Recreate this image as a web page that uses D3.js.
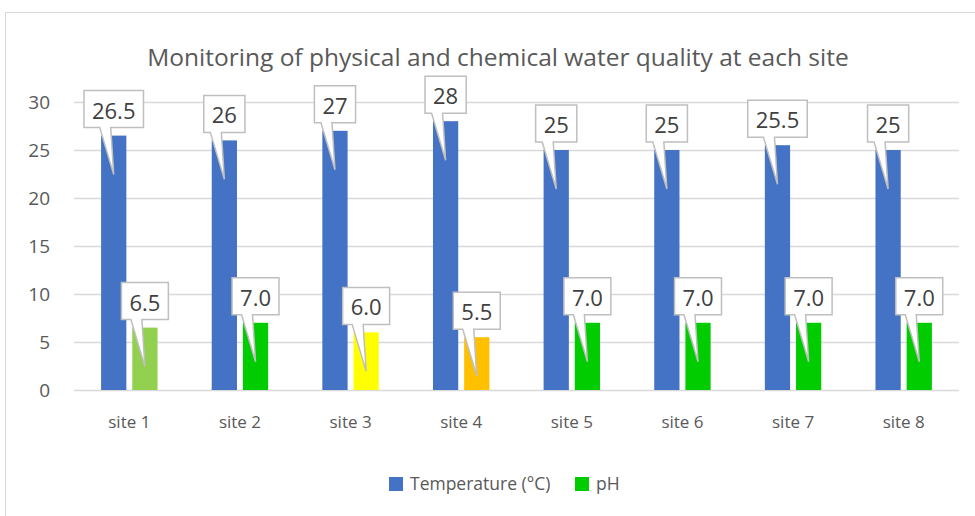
<!DOCTYPE html>
<html>
<head>
<meta charset="utf-8">
<script src="https://cdn.jsdelivr.net/npm/d3@7"></script>
<style>
  body { margin: 0; background: #fff; }
  text { font-family: "Open Sans", "Noto Sans", sans-serif; }
</style>
</head>
<body>
<div id="chart"></div>
<script>
var sites = ["site 1", "site 2", "site 3", "site 4", "site 5", "site 6", "site 7", "site 8"];
var temperature = [26.5, 26, 27, 28, 25, 25, 25.5, 25];
var ph = [6.5, 7.0, 6.0, 5.5, 7.0, 7.0, 7.0, 7.0];
var phColors = ["#92D050", "#00CC00", "#FFFF00", "#FFC000", "#00CC00", "#00CC00", "#00CC00", "#00CC00"];
var yTicks = [0, 5, 10, 15, 20, 25, 30];
var seriesNames = ["Temperature (\u00B0C)", "pH"];

var W = 975, H = 516;
var margin = {top: 102, right: 16, bottom: 126, left: 74},
    width = W - margin.left - margin.right,
    height = H - margin.top - margin.bottom;

var data = sites.map(function(s, i) {
  return {site: s, temp: temperature[i], ph: ph[i], phColor: phColors[i]};
});

var svg = d3.select("#chart").append("svg")
    .attr("width", W)
    .attr("height", H);

// chart area border
svg.append("rect")
    .attr("x", 5.5).attr("y", 12.5)
    .attr("width", 1000).attr("height", 600)
    .attr("fill", "#fff")
    .attr("stroke", "#d9d9d9");

svg.append("text")
    .attr("x", 498).attr("y", 66)
    .attr("text-anchor", "middle")
    .attr("font-size", "24.5px")
    .attr("fill", "#595959")
    .text("Monitoring of physical and chemical water quality at each site");

var xScale = d3.scaleBand()
    .domain(sites)
    .range([0, width]);

var bw = xScale.bandwidth();
var xSub = d3.scaleBand()
    .domain(["temp", "ph"])
    .range([bw * 0.245, bw * 0.755])
    .paddingInner(0.19);

var yScale = d3.scaleLinear()
    .domain([0, 30])
    .range([height, 0]);

var g = svg.append("g")
    .attr("transform", "translate(" + margin.left + "," + margin.top + ")");

// gridlines
g.append("g")
    .selectAll("line")
    .data(yTicks)
    .enter().append("line")
    .attr("x1", 0).attr("x2", width)
    .attr("y1", function(d) { return Math.round(yScale(d)) + 0.5; })
    .attr("y2", function(d) { return Math.round(yScale(d)) + 0.5; })
    .attr("stroke", "#d9d9d9")
    .attr("stroke-width", 1.3);

// axis-y
var yAxis = g.append("g")
    .call(d3.axisLeft(yScale).tickValues(yTicks).tickSize(0).tickPadding(24));
yAxis.select(".domain").remove();
yAxis.selectAll("text")
    .attr("font-family", "'Open Sans', sans-serif")
    .attr("font-size", "19px")
    .attr("fill", "#595959");

// axis-x
var xAxis = g.append("g")
    .attr("transform", "translate(0," + height + ")")
    .call(d3.axisBottom(xScale).tickSize(0).tickPadding(26));
xAxis.select(".domain").remove();
xAxis.selectAll("text")
    .attr("font-family", "'Open Sans', sans-serif")
    .attr("font-size", "17px")
    .attr("fill", "#595959");

var group = g.selectAll(".site")
    .data(data)
    .enter().append("g")
    .attr("class", "site")
    .attr("transform", function(d) { return "translate(" + xScale(d.site) + ",0)"; });

group.append("rect")
    .attr("x", xSub("temp"))
    .attr("y", function(d) { return yScale(d.temp); })
    .attr("width", xSub.bandwidth())
    .attr("height", function(d) { return height - yScale(d.temp); })
    .attr("fill", "#4472C4");

group.append("rect")
    .attr("x", xSub("ph"))
    .attr("y", function(d) { return yScale(d.ph); })
    .attr("width", xSub.bandwidth())
    .attr("height", function(d) { return height - yScale(d.ph); })
    .attr("fill", function(d) { return d.phColor; });

// callout labels
function callout(sel, key, fmt) {
  sel.each(function(d) {
    var cx = xSub(key) + xSub.bandwidth() / 2;
    var top = yScale(d[key]);
    var bh = 37;
    var by = top - 8 - bh;
    var c = d3.select(this).append("g");
    var txt = c.append("text")
        .attr("x", cx)
        .attr("y", by + bh / 2 + 9.5)
        .attr("text-anchor", "middle")
        .attr("font-size", "22px")
        .attr("fill", "#404040")
        .text(fmt(d[key]));
    var tw = txt.node().getComputedTextLength();
    var bwid = tw + 16;
    var bx = cx - bwid / 2;
    var bottom = by + bh;
    var tipY = top + 39;
    var a1 = cx - 14, a2 = cx - 3;
    var path = "M" + bx + "," + by +
        "H" + (bx + bwid) +
        "V" + bottom +
        "H" + a2 +
        "L" + cx + "," + tipY +
        "L" + a1 + "," + bottom +
        "H" + bx + "Z";
    c.insert("path", "text")
        .attr("d", path)
        .attr("fill", "#fff")
        .attr("stroke", "#bfbfbf")
        .attr("stroke-width", 1.5)
        .attr("stroke-linejoin", "miter");
  });
}

callout(group, "temp", function(v) { return String(v); });
callout(group, "ph", function(v) { return v.toFixed(1); });

// legend
var legend = svg.append("g").attr("transform", "translate(389,477)");
var legendColors = ["#4472C4", "#00CC00"];
var legendX = [0, 186];
seriesNames.forEach(function(name, i) {
  legend.append("rect")
      .attr("x", legendX[i]).attr("y", 0)
      .attr("width", 14).attr("height", 14)
      .attr("fill", legendColors[i]);
  legend.append("text")
      .attr("x", legendX[i] + 21).attr("y", 13)
      .attr("font-size", "17.5px")
      .attr("fill", "#595959")
      .text(name);
});
</script>
</body>
</html>
